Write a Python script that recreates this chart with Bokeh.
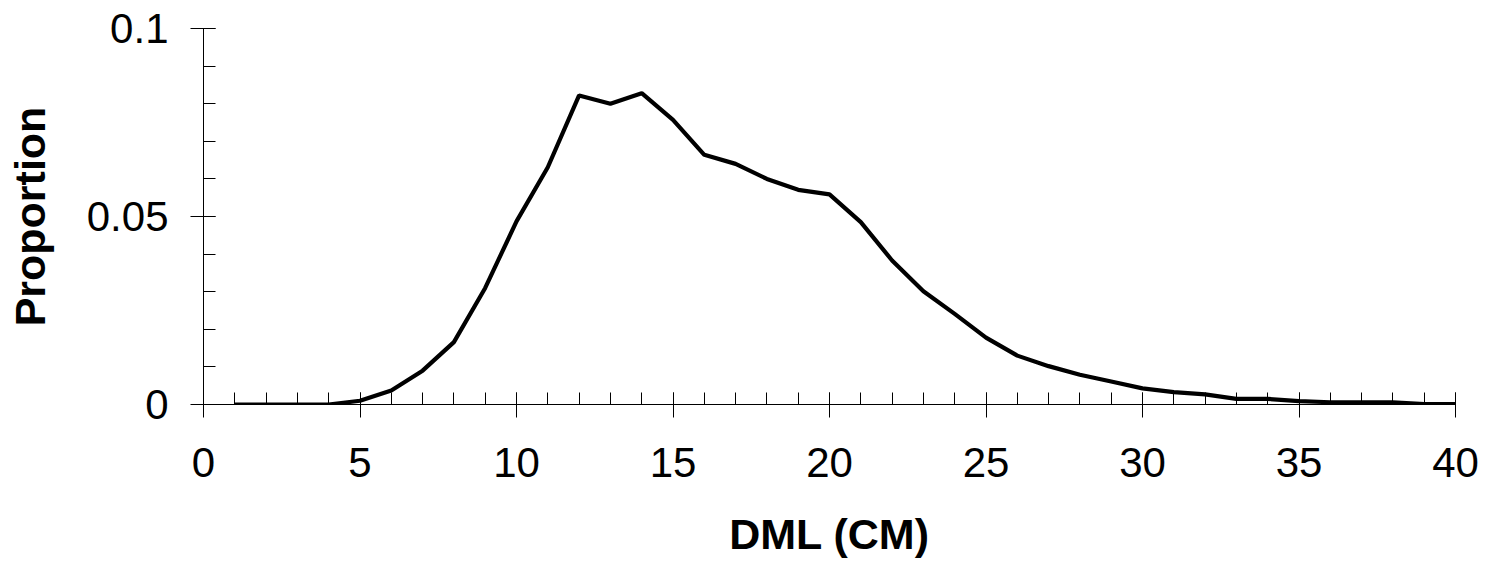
from bokeh.plotting import figure
from bokeh.models import FixedTicker, CustomJSTickFormatter
from bokeh.embed import file_html
from bokeh.resources import INLINE

# Data
dml_cm = list(range(1, 41))
proportion = [0.0, 0.0, 0.0, 0.0, 0.001, 0.0037, 0.009, 0.0166, 0.031, 0.0487,
              0.0631, 0.0822, 0.080, 0.0828, 0.0757, 0.0664, 0.064, 0.060, 0.0571, 0.0559,
              0.0485, 0.0383, 0.0301, 0.0241, 0.0178, 0.0130, 0.0102, 0.0079, 0.0061, 0.0043,
              0.0033, 0.0027, 0.0015, 0.0015, 0.0009, 0.0006, 0.0006, 0.0006, 0.0001, 0.0001]

x_ticks = [0, 5, 10, 15, 20, 25, 30, 35, 40]
x_minor = list(range(0, 41))
y_ticks = [0, 0.05, 0.1]
y_minor = [i / 100 for i in range(0, 11)]

FONT = "Liberation Sans"

p = figure(width=1487, height=569, x_range=(0, 40), y_range=(0, 0.1),
           output_backend="svg", toolbar_location=None,
           min_border_left=203, min_border_right=32, min_border_top=28, min_border_bottom=165)
p.outline_line_color = None
p.grid.visible = False
p.background_fill_color = "white"
p.border_fill_color = "white"

p.line(dml_cm, proportion, line_color="black", line_width=4.2)

p.xaxis.ticker = FixedTicker(ticks=x_ticks, minor_ticks=x_minor)
p.yaxis.ticker = FixedTicker(ticks=y_ticks, minor_ticks=y_minor)
p.yaxis.formatter = CustomJSTickFormatter(code="return String(Math.round(tick*100)/100);")
p.xaxis.formatter = CustomJSTickFormatter(code="return String(Math.round(tick));")

for ax in (p.xaxis[0], p.yaxis[0]):
    ax.axis_line_color = "black"
    ax.axis_line_width = 1
    ax.major_tick_line_color = "black"
    ax.minor_tick_line_color = "black"
    ax.major_tick_in = 12
    ax.major_tick_out = 13
    ax.minor_tick_in = 12
    ax.minor_tick_out = 0
    ax.major_label_text_font = FONT
    ax.major_label_text_font_size = "42px"
    ax.major_label_text_color = "black"
    ax.axis_label_text_font = FONT
    ax.axis_label_text_font_size = "43px"
    ax.axis_label_text_font_style = "bold"
    ax.axis_label_text_color = "black"

p.xaxis.axis_label = "DML (CM)"
p.yaxis.axis_label = "Proportion"
p.xaxis.major_label_standoff = 30
p.yaxis.major_label_standoff = 22
p.xaxis.axis_label_standoff = 30
p.yaxis.axis_label_standoff = 30

open("out.html", "w").write(file_html(p, INLINE))
